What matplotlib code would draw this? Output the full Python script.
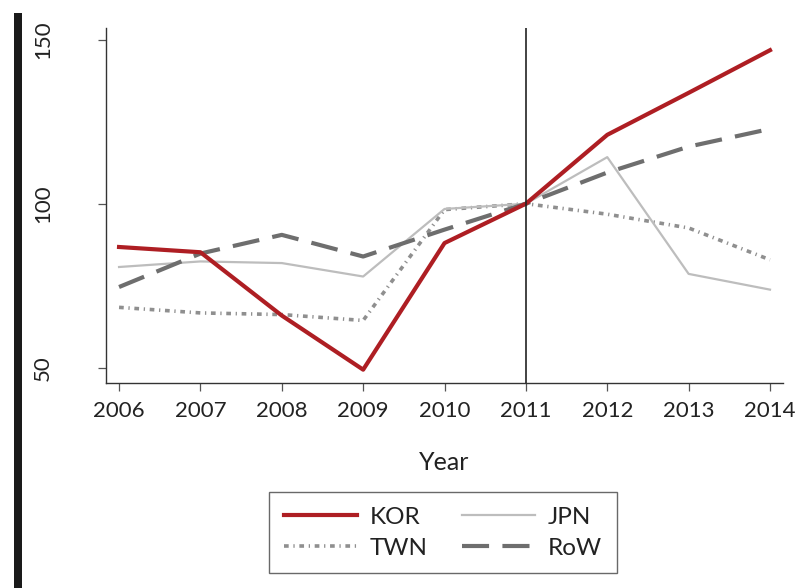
import matplotlib
matplotlib.use('Agg')
import matplotlib.pyplot as plt
from matplotlib.patches import Rectangle

plt.rcParams['font.family'] = ['Lato', 'DejaVu Sans']

# data (index, 2011 = 100)
years = [2006, 2007, 2008, 2009, 2010, 2011, 2012, 2013, 2014]
kor = [86.8, 85.2, 65.9, 49.4, 88.0, 100, 121.0, 133.8, 146.8]
jpn = [80.7, 82.4, 81.9, 77.8, 98.4, 100, 114.2, 78.6, 73.8]
twn = [68.4, 66.7, 66.2, 64.4, 98.2, 100, 96.8, 92.6, 82.9]
row = [74.6, 84.8, 90.5, 83.9, 92.1, 100, 109.5, 117.4, 122.8]

fig = plt.figure(figsize=(7.99, 5.88), dpi=100)
ax = fig.add_axes([0.1327, 0.349, 0.8473, 0.603])

l_kor, = ax.plot(years, kor, color='#AE1E23', lw=3.0, label='KOR', zorder=5)
l_jpn, = ax.plot(years, jpn, color='#BDBDBD', lw=1.6, label='JPN', zorder=3)
l_twn, = ax.plot(years, twn, color='#8F8F8F', lw=2.6, dashes=(1.3, 1.3, 0.35, 1.3), label='TWN', zorder=2)
l_row, = ax.plot(years, row, color='#6E6E6E', lw=3.0, dashes=(6.5, 3.2), label='RoW', zorder=4)

ax.axvline(2011, color='#222222', lw=1.2, zorder=6)

ax.set_xlim(2005.84, 2014.16)
ax.set_ylim(45.4, 153.5)
ax.set_xticks(years)
ax.set_yticks([50, 100, 150])
ax.spines['top'].set_visible(False)
ax.spines['right'].set_visible(False)
for s in ['left', 'bottom']:
    ax.spines[s].set_color('#333333')
    ax.spines[s].set_linewidth(1.0)
ax.tick_params(axis='x', length=6, width=0.9, color='#555555', labelsize=16, pad=7, labelcolor='#222222')
ax.tick_params(axis='y', length=6, width=0.9, color='#555555', labelsize=16, pad=32, labelcolor='#222222')
for lab in ax.get_yticklabels():
    lab.set_rotation(90)
    lab.set_va('center')
ax.set_xlabel('Year', fontsize=18, color='#222222', labelpad=22)

# column-wise fill: KOR/TWN in first column, JPN/RoW in second
leg = fig.legend([l_kor, l_twn, l_jpn, l_row], ['KOR', 'TWN', 'JPN', 'RoW'],
                 loc='upper left', bbox_to_anchor=(269 / 799, 1 - 492 / 588), borderaxespad=0,
                 ncol=2, fontsize=17.5, frameon=True, fancybox=False, handlelength=3.0,
                 columnspacing=1.4, handletextpad=0.55, borderpad=0.6, labelspacing=0.42)
leg.get_frame().set_edgecolor('#444444')
leg.get_frame().set_linewidth(1.0)
for t in leg.get_texts():
    t.set_color('#222222')

# black bar along the left edge
fig.add_artist(Rectangle((14 / 799, 0), 8 / 799, 1 - 13 / 588, transform=fig.transFigure,
                         color='#1a1a1a', lw=0))

fig.savefig('out.png', dpi=100)
